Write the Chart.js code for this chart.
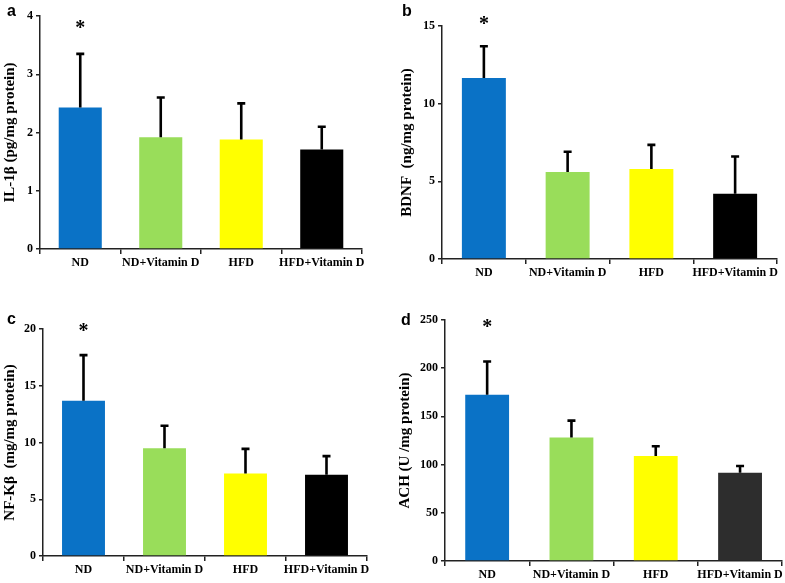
<!DOCTYPE html>
<html><head><meta charset="utf-8">
<script src="https://cdn.jsdelivr.net/npm/chart.js@4.4.1/dist/chart.umd.min.js"></script>
<style>
html,body{margin:0;padding:0;background:#fff;}
body{width:785px;height:583px;position:relative;overflow:hidden;}
.p{position:absolute;}
.lbl{position:absolute;font-family:"Liberation Sans",Arial,sans-serif;font-weight:bold;font-size:16px;line-height:18px;color:#000;}
</style></head><body>
<div class="p" style="left:0;top:0;width:390px;height:290px"><canvas id="ca"></canvas></div>
<div class="p" style="left:390px;top:0;width:395px;height:290px"><canvas id="cb"></canvas></div>
<div class="p" style="left:0;top:290px;width:390px;height:293px"><canvas id="cc"></canvas></div>
<div class="p" style="left:390px;top:290px;width:395px;height:293px"><canvas id="cd"></canvas></div>
<div class="lbl" style="left:7px;top:2px">a</div>
<div class="lbl" style="left:402px;top:2px">b</div>
<div class="lbl" style="left:7px;top:310px">c</div>
<div class="lbl" style="left:401px;top:311px">d</div>
<script>
// ---- data ----
const categories = ["ND", "ND+Vitamin D", "HFD", "HFD+Vitamin D"];

const il1bMeans = [2.43, 1.92, 1.88, 1.71];
const il1bUpper = [3.35, 2.60, 2.50, 2.10];
const il1bTicks = [0, 1, 2, 3, 4];

const bdnfMeans = [11.65, 5.60, 5.80, 4.20];
const bdnfUpper = [13.70, 6.90, 7.35, 6.60];
const bdnfTicks = [0, 5, 10, 15];

const nfkbMeans = [13.68, 9.50, 7.26, 7.15];
const nfkbUpper = [17.70, 11.47, 9.44, 8.80];
const nfkbTicks = [0, 5, 10, 15, 20];

const achMeans = [172.5, 128, 109, 91.6];
const achUpper = [207, 145.6, 119, 98.5];
const achTicks = [0, 50, 100, 150, 200, 250];

const starLevels = [3.86, 15.36, 20.08, 246.5];   // height of "*" over ND in each panel

const colorsABC = ["#0a72c6", "#99dd5a", "#ffff00", "#000000"];
const colorsD   = ["#0a72c6", "#99dd5a", "#ffff00", "#2d2d2d"];

// ---- error-bar + star plugin ----
const errPlugin = {
  id: 'errbars',
  afterDatasetsDraw(chart, args, opts) {
    const ctx = chart.ctx, y = chart.scales.y;
    const meta = chart.getDatasetMeta(0);
    ctx.save();
    ctx.strokeStyle = '#000'; ctx.lineWidth = 2.6; ctx.lineCap = 'butt';
    meta.data.forEach((bar, i) => {
      const yTop = y.getPixelForValue(opts.upper[i]);
      const yBar = y.getPixelForValue(opts.means[i]);
      ctx.beginPath();
      ctx.moveTo(bar.x, yBar); ctx.lineTo(bar.x, yTop);
      ctx.moveTo(bar.x - 4, yTop); ctx.lineTo(bar.x + 4, yTop);
      ctx.stroke();
    });
    const b0 = meta.data[0];
    const fs = 20;
    ctx.fillStyle = '#000';
    ctx.font = 'bold ' + fs + 'px "Liberation Serif", "Times New Roman", serif';
    ctx.textAlign = 'center'; ctx.textBaseline = 'alphabetic';
    ctx.fillText('*', b0.x, y.getPixelForValue(opts.star) + 0.47 * fs);
    ctx.restore();
  }
};

function makeChart(id, means, upper, ticks, colors, star, title, box, titlePad, barPct) {
  const serif = '"Liberation Serif", "Times New Roman", serif';
  return new Chart(document.getElementById(id), {
    type: 'bar',
    data: { labels: categories, datasets: [{ data: means, backgroundColor: colors,
      barPercentage: barPct, categoryPercentage: 1.0, borderWidth: 0 }] },
    options: {
      responsive: true, maintainAspectRatio: false, animation: false,
      layout: { padding: { top: box.top, right: box.right, left: 0, bottom: 0 } },
      plugins: { legend: { display: false }, tooltip: { enabled: false },
        errbars: { means: means, upper: upper, star: star } },
      scales: {
        x: {
          grid: { offset: true, drawOnChartArea: false, drawTicks: true, tickLength: 5, color: '#222', lineWidth: 1.5 },
          border: { display: true, color: '#222', width: 1.5 },
          ticks: { color: '#000', font: { family: serif, weight: 'bold', size: 12 }, padding: 2, maxRotation: 0, autoSkip: false },
          afterFit(s) { s.height = box.h - box.bottom; }
        },
        y: {
          min: ticks[0], max: ticks[ticks.length - 1],
          afterBuildTicks(s) { s.ticks = ticks.map(v => ({ value: v })); },
          grid: { drawOnChartArea: false, drawTicks: true, tickLength: 4, color: '#222', lineWidth: 1.5 },
          border: { display: true, color: '#222', width: 1.5 },
          ticks: { color: '#000', font: { family: serif, weight: 'bold', size: 12 }, padding: 3 },
          title: { display: true, text: title, color: '#000', font: { family: serif, weight: 'bold', size: 15 }, padding: { top: titlePad, bottom: 0 } },
          afterFit(s) { s.width = box.left; }
        }
      }
    },
    plugins: [errPlugin]
  });
}

makeChart('ca', il1bMeans, il1bUpper, il1bTicks, colorsABC, starLevels[0], 'IL-1β (pg/mg protein)',
  { left: 40, top: 16, right: 390 - 362, bottom: 249, h: 290 }, 1, 0.535);
makeChart('cb', bdnfMeans, bdnfUpper, bdnfTicks, colorsABC, starLevels[1], 'BDNF  (ng/mg protein)',
  { left: 52, top: 26, right: 395 - 387, bottom: 259, h: 290 }, 8, 0.525);
makeChart('cc', nfkbMeans, nfkbUpper, nfkbTicks, colorsABC, starLevels[2], 'NF-Kβ  (mg/mg protein)',
  { left: 43, top: 39, right: 390 - 367, bottom: 266, h: 293 }, 1, 0.53);
makeChart('cd', achMeans, achUpper, achTicks, colorsD, starLevels[3], 'ACH (U /mg protein)',
  { left: 55, top: 30, right: 395 - 393, bottom: 271, h: 293 }, 6, 0.52);
</script>
</body></html>
